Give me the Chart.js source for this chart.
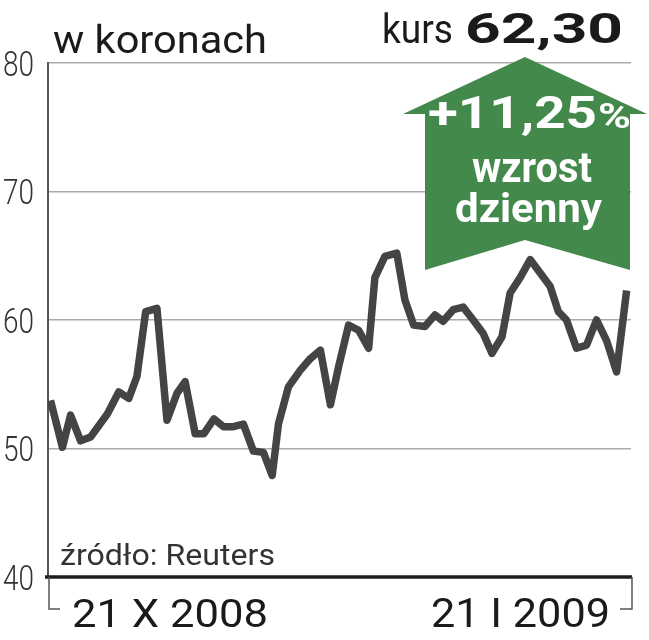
<!DOCTYPE html>
<html>
<head>
<meta charset="utf-8">
<script src="https://cdn.jsdelivr.net/npm/chart.js@4.4.1/dist/chart.umd.min.js"></script>
<style>
  html, body { margin: 0; padding: 0; background: #fff; }
  #wrap { width: 649px; height: 640px; }
</style>
</head>
<body>
<div id="wrap"><canvas id="graph" width="649" height="640"></canvas></div>
<script>
// dni od 21 X 2008 i kurs w koronach
var dni = [0, 1.9, 3.2, 4.8, 6.4, 9.1, 10.9, 12.5, 13.8, 15.2, 17.0, 18.6, 20.2, 21.5, 23.1,
  24.5, 26.1, 27.6, 29.2, 30.8, 32.4, 34.0, 35.4, 36.4, 38.0, 39.9, 41.5, 43.1, 44.7, 46.0,
  47.6, 49.2, 50.8, 51.8, 53.4, 55.3, 56.6, 58.0, 59.8, 61.4, 62.7, 64.3, 65.9, 67.5, 69.1,
  70.5, 72.1, 73.4, 75.0, 76.6, 79.8, 81.1, 82.4, 84.0, 85.6, 87.2, 88.8, 90.4, 92];
var kurs = [53.75, 50.1, 52.6, 50.6, 50.9, 52.7, 54.4, 53.9, 55.6, 60.65, 60.9, 52.2, 54.3, 55.2, 51.15,
  51.15, 52.3, 51.7, 51.7, 51.9, 49.8, 49.7, 47.9, 51.9, 54.8, 56.1, 57.0, 57.65, 53.4, 56.35,
  59.6, 59.2, 57.8, 63.3, 64.95, 65.2, 61.55, 59.6, 59.5, 60.4, 59.9, 60.8, 61.0, 60.0, 58.95,
  57.4, 58.7, 62.1, 63.3, 64.7, 62.6, 60.65, 60.0, 57.8, 58.05, 60.0, 58.4, 55.96, 62.3];
var yTicks = [40, 50, 60, 70, 80];
var dateLabels = ["21 X 2008", "21 I 2009"];
var title = "w koronach";
var kursLabel = "kurs";
var kursValue = "62,30";
var zmiana = "+11,25";
var zmianaOpis = ["wzrost", "dzienny"];
var zrodlo = "źródło: Reuters";

var FONT = "Roboto, 'Liberation Sans', sans-serif";
var GREEN = "#44894c";

// rysuje tekst sciesniony do zadanej szerokosci
function fitText(ctx, text, x, y, size, weight, width, color, right) {
  ctx.save();
  ctx.font = weight + " " + size + "px " + FONT;
  ctx.fillStyle = color;
  ctx.textAlign = "left";
  ctx.textBaseline = "alphabetic";
  var w = ctx.measureText(text).width;
  ctx.translate(right ? x - width : x, y);
  ctx.scale(width / w, 1);
  ctx.fillText(text, 0, 0);
  ctx.restore();
}

var arrowPlugin = {
  id: "arrow",
  beforeDatasetsDraw: function (chart) {
    var ctx = chart.ctx;
    var a = chart.chartArea;
    var cx = a.left + 477;
    ctx.save();
    ctx.fillStyle = GREEN;
    ctx.beginPath();
    ctx.moveTo(cx, a.top - 6);
    ctx.lineTo(a.right + 16, a.top + 51);
    ctx.lineTo(a.right - 1, a.top + 51);
    ctx.lineTo(a.right - 1, a.top + 207);
    ctx.lineTo(cx, a.top + 177);
    ctx.lineTo(a.left + 377, a.top + 207);
    ctx.lineTo(a.left + 377, a.top + 51);
    ctx.lineTo(a.left + 355, a.top + 51);
    ctx.closePath();
    ctx.fill();
    ctx.restore();
  },
  afterDraw: function (chart) {
    var ctx = chart.ctx;
    var a = chart.chartArea;
    var ys = chart.scales.y;

    // etykiety osi Y
    yTicks.forEach(function (v) {
      fitText(ctx, String(v), 34, ys.getPixelForValue(v) + 12.5, 35, "300", 31, "#333", true);
    });

    // dolna os
    ctx.save();
    ctx.strokeStyle = "#1e1e1e";
    ctx.lineWidth = 3.5;
    ctx.beginPath();
    ctx.moveTo(a.left - 3, a.bottom);
    ctx.lineTo(a.right + 1, a.bottom);
    ctx.stroke();

    // nawiasy pod osia
    ctx.strokeStyle = "#555";
    ctx.lineWidth = 1.5;
    ctx.beginPath();
    ctx.moveTo(a.left + 1, a.bottom);
    ctx.lineTo(a.left + 1, a.bottom + 32);
    ctx.lineTo(a.left + 12, a.bottom + 32);
    ctx.moveTo(a.right + 1, a.bottom);
    ctx.lineTo(a.right + 1, a.bottom + 32);
    ctx.lineTo(a.right - 11, a.bottom + 32);
    ctx.stroke();
    ctx.restore();

    fitText(ctx, dateLabels[0], 72, 627, 39, "normal", 196, "#1a1a1a");
    fitText(ctx, dateLabels[1], 431, 627, 40, "normal", 179, "#1a1a1a");

    fitText(ctx, title, 53, 53, 38, "normal", 214, "#1a1a1a");
    fitText(ctx, kursLabel, 382, 43, 41, "normal", 71, "#1a1a1a");
    fitText(ctx, kursValue, 465, 43, 43, "bold", 158, "#1a1a1a");
    fitText(ctx, zrodlo, 60, 565, 30, "normal", 215, "#333");

    fitText(ctx, zmiana, 428, 128, 44, "bold", 169, "#fff");
    fitText(ctx, "%", 598, 128, 35, "bold", 33, "#fff");
    fitText(ctx, zmianaOpis[0], 472, 182, 42, "bold", 120, "#fff");
    fitText(ctx, zmianaOpis[1], 455, 222, 41, "bold", 147, "#fff");
  }
};

var points = dni.map(function (d, i) { return { x: d, y: kurs[i] }; });

var chart = new Chart(document.getElementById("graph").getContext("2d"), {
  type: "line",
  data: {
    datasets: [{
      label: "kurs",
      data: points,
      borderColor: "#444444",
      borderWidth: 7.5,
      pointRadius: 0,
      tension: 0,
      borderJoinStyle: "round",
      borderCapStyle: "butt",
      fill: false
    }]
  },
  options: {
    responsive: false,
    animation: false,
    events: [],
    layout: { padding: { top: 63, right: 18, bottom: 63, left: 0 } },
    plugins: {
      legend: { display: false },
      tooltip: { enabled: false }
    },
    scales: {
      x: {
        type: "linear",
        display: false,
        min: -0.4,
        max: 92.7
      },
      y: {
        type: "linear",
        min: 40,
        max: 80,
        afterFit: function (s) { s.width = 48; },
        afterBuildTicks: function (s) { s.ticks = yTicks.map(function (v) { return { value: v }; }); },
        border: { display: true, color: "#555", width: 2 },
        grid: { color: "#aaaaaa", lineWidth: 1.5, drawTicks: false },
        ticks: { display: false }
      }
    }
  },
  plugins: [arrowPlugin]
});
</script>
</body>
</html>
